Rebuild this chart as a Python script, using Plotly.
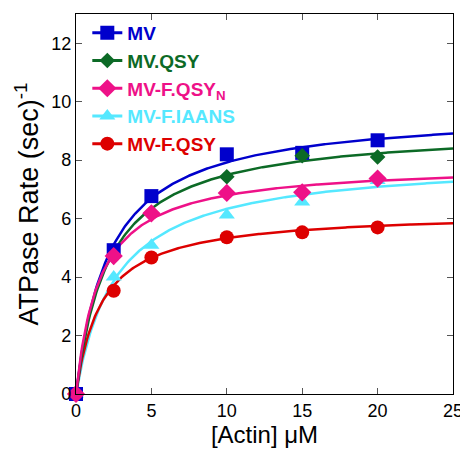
import numpy as np
import plotly.graph_objects as go

# Data
actin = [0, 2.5, 5, 10, 15, 20]
mv = [0, 4.92, 6.77, 8.2, 8.25, 8.68]
mv_qsy = [0, 4.7, 6.2, 7.43, 8.15, 8.11]
mv_f_qsy_n = [0, 4.72, 6.18, 6.88, 6.9, 7.37]
mv_f_iaans = [0, 4.0, 5.09, 6.12, 6.57, 7.3]
mv_f_qsy = [0, 3.53, 4.67, 5.36, 5.53, 5.70]

# Hyperbolic fit parameters (Vmax, Km)
fit_vmax = [9.71, 9.14, 7.88, 8.04, 6.24]
fit_km = [2.25, 2.2, 1.59, 2.69, 1.70]

names = ["MV", "MV.QSY", "MV-F.QSY<sub>N</sub>", "MV-F.IAANS", "MV-F.QSY"]
series = [mv, mv_qsy, mv_f_qsy_n, mv_f_iaans, mv_f_qsy]
colors = ["#0000CC", "#0C6A26", "#EE1188", "#55E8FF", "#DD0000"]
symbols = ["square", "diamond", "diamond", "triangle-up", "circle"]
sizes = [14, 12, 14, 14, 14]

fig = go.Figure()

xc = np.linspace(0, 25, 300)
draw_order = [3, 4, 0, 1, 2]
for i in draw_order:
    yc = fit_vmax[i] * xc / (fit_km[i] + xc)
    fig.add_trace(go.Scatter(x=xc, y=yc, mode="lines", showlegend=False,
                             line=dict(color=colors[i], width=2.5), hoverinfo="skip"))
for i in draw_order:
    fig.add_trace(go.Scatter(x=actin, y=series[i], mode="markers", showlegend=False,
                             marker=dict(symbol=symbols[i], size=sizes[i], color=colors[i]),
                             cliponaxis=False))
# legend entries
for i in range(5):
    fig.add_trace(go.Scatter(x=[None], y=[None], mode="lines+markers",
                             name=f"<span style='color:{colors[i]}'><b>{names[i]}</b></span>",
                             line=dict(color=colors[i], width=3),
                             marker=dict(symbol=symbols[i], size=sizes[i], color=colors[i])))

FONT = "Liberation Sans, Arial"
axis_common = dict(showline=True, linecolor="black", linewidth=1.3, mirror="allticks",
                   ticks="inside", ticklen=6, tickcolor="#555", tickwidth=1.3,
                   showgrid=False, zeroline=False,
                   tickfont=dict(family=FONT, size=18, color="black"))

# page body adds an 8px offset; sizes compensate for it
fig.update_layout(
    width=460, height=444,
    margin=dict(l=68, r=12, t=5, b=58),
    paper_bgcolor="white", plot_bgcolor="white",
    xaxis=dict(range=[0, 25], tickvals=[0, 5, 10, 15, 20, 25],
               title=dict(text="[Actin] μM", font=dict(family=FONT, size=24, color="black"),
                          standoff=2),
               **axis_common),
    yaxis=dict(range=[0, 13], tickvals=[0, 2, 4, 6, 8, 10, 12],
               title=dict(text="ATPase Rate (sec)<sup>-1</sup>",
                          font=dict(family=FONT, size=27, color="black"),
                          standoff=4),
               **axis_common),
    legend=dict(x=0.03, y=1.0, xanchor="left", yanchor="top", bgcolor="rgba(0,0,0,0)",
                font=dict(family=FONT, size=19), tracegroupgap=0,
                itemwidth=30),
    showlegend=True,
)

fig.write_html("out.html")
